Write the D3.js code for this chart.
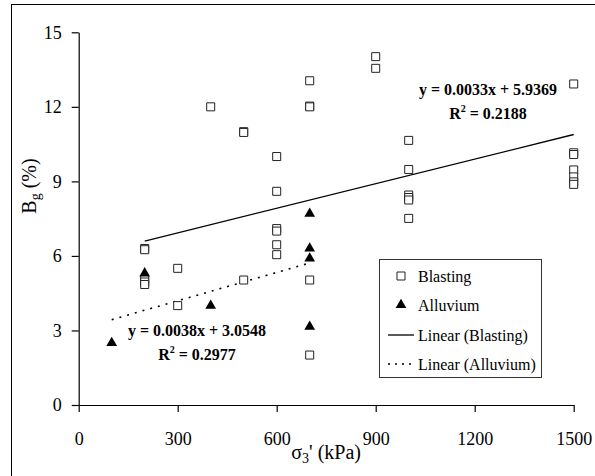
<!DOCTYPE html>
<html>
<head>
<meta charset="utf-8">
<script src="https://cdn.jsdelivr.net/npm/d3@7"></script>
<style>
  html, body { margin: 0; padding: 0; background: #fff; }
  svg { display: block; }
</style>
</head>
<body>
<svg id="chart" width="595" height="476"></svg>
<script>
// ---- data ----
const blastingX = [200, 200, 200, 200, 200, 300, 300, 400, 500, 500, 500,
  600, 600, 600, 600, 600, 600,
  700, 700, 700, 700, 700,
  900, 900,
  1000, 1000, 1000, 1000, 1000, 1000,
  1500, 1500, 1500, 1500, 1500, 1500, 1500];
const blastingY = [6.3, 6.25, 5.05, 4.95, 4.85, 5.5, 4.0, 12.0, 11.0, 10.97, 5.03,
  10.0, 8.6, 7.1, 7.0, 6.45, 6.05,
  13.05, 12.03, 12.0, 5.03, 2.01,
  14.02, 13.55,
  10.65, 9.48, 8.45, 8.35, 8.25, 7.51,
  12.92, 10.15, 10.08, 9.46, 9.18, 8.98, 8.88];
const alluviumX = [100, 200, 400, 700, 700, 700, 700];
const alluviumY = [2.5, 5.3, 4.0, 7.7, 6.3, 5.9, 3.15];

// trend line coefficients (from the chart labels)
const blastSlope = 0.0033, blastIntercept = 5.9369, blastR2 = "0.2188";
const alluvSlope = 0.0038, alluvIntercept = 3.0548, alluvR2 = "0.2977";

const xTicks = [0, 300, 600, 900, 1200, 1500];
const yTicks = [0, 3, 6, 9, 12, 15];
const legendLabels = ["Blasting", "Alluvium", "Linear (Blasting)", "Linear (Alluvium)"];

// ---- drawing ----
const FONT = "'Liberation Serif', 'Times New Roman', serif";
const svg = d3.select("#chart");
function styleText(sel, size, weight) {
  sel.style("font-family", FONT).style("font-size", size + "px")
     .style("font-weight", weight || "normal").style("fill", "#000");
  return sel;
}

// outer frame (partly cut off in the reference)
svg.append("rect")
  .attr("x", 11.5).attr("y", 4.5).attr("width", 700).attr("height", 600)
  .attr("fill", "none").attr("stroke", "#000").attr("stroke-width", 1);

const x = d3.scaleLinear().domain([0, 1500]).range([78.7, 573.7]);
const y = d3.scaleLinear().domain([0, 15]).range([405, 32.3]);

const yAxis = svg.append("g")
  .attr("transform", `translate(${x(0)},0)`)
  .call(d3.axisLeft(y).tickValues(yTicks).tickSize(7).tickSizeOuter(0).tickPadding(10).tickFormat(d3.format("d")));
const xAxis = svg.append("g")
  .attr("transform", `translate(0,${y(0)})`)
  .call(d3.axisBottom(x).tickValues(xTicks).tickSize(7).tickSizeOuter(0).tickPadding(20).tickFormat(d3.format("d")));

[yAxis, xAxis].forEach(g => {
  g.selectAll("path, line").attr("stroke", "#000").attr("stroke-width", 1.2);
  styleText(g.selectAll("text"), 18);
});

// axis titles
const yTitle = styleText(svg.append("text"), 20)
  .attr("transform", "translate(36,186) rotate(-90)")
  .attr("text-anchor", "middle");
yTitle.append("tspan").text("B");
yTitle.append("tspan").style("font-size", "14px").attr("dy", 4).text("g");
yTitle.append("tspan").attr("dy", -4).text(" (%)");

const xTitle = styleText(svg.append("text"), 20)
  .attr("x", x(750)).attr("y", 459)
  .attr("text-anchor", "middle");
xTitle.append("tspan").text("σ");
xTitle.append("tspan").style("font-size", "14px").attr("dy", 4).text("3");
xTitle.append("tspan").attr("dy", -4).text("' (kPa)");

// trend lines
const line = d3.line().x(d => x(d[0])).y(d => y(d[1]));
const bMin = d3.min(blastingX), bMax = d3.max(blastingX);
const aMin = d3.min(alluviumX), aMax = d3.max(alluviumX);
svg.append("path")
  .datum([[bMin, blastSlope * bMin + blastIntercept], [bMax, blastSlope * bMax + blastIntercept]])
  .attr("d", line).attr("fill", "none").attr("stroke", "#000").attr("stroke-width", 1.3);
svg.append("path")
  .datum([[aMin, alluvSlope * aMin + alluvIntercept], [aMax, alluvSlope * aMax + alluvIntercept]])
  .attr("d", line).attr("fill", "none").attr("stroke", "#000").attr("stroke-width", 1.6)
  .attr("stroke-dasharray", "2,6");

// points
const blasting = blastingX.map((v, i) => [v, blastingY[i]]);
const alluvium = alluviumX.map((v, i) => [v, alluviumY[i]]);
const sqSym = d3.symbol().type(d3.symbolSquare).size(64);
const triSym = d3.symbol().type(d3.symbolTriangle).size(50);

svg.append("g").selectAll("path").data(blasting).join("path")
  .attr("transform", d => `translate(${x(d[0])},${y(d[1])})`)
  .attr("d", sqSym).attr("fill", "#fff").attr("stroke", "#222").attr("stroke-width", 1);

svg.append("g").selectAll("path").data(alluvium).join("path")
  .attr("transform", d => `translate(${x(d[0])},${y(d[1])})`)
  .attr("d", triSym).attr("fill", "#000");

// equations
function equation(cx, by, slope, intercept, r2) {
  styleText(svg.append("text"), 16, "bold").attr("x", cx).attr("y", by)
    .attr("text-anchor", "middle")
    .text(`y = ${slope.toFixed(4)}x + ${intercept.toFixed(4)}`);
  const t2 = styleText(svg.append("text"), 16, "bold").attr("x", cx).attr("y", by + 24)
    .attr("text-anchor", "middle");
  t2.append("tspan").text("R");
  t2.append("tspan").style("font-size", "10px").attr("dy", -7).text("2");
  t2.append("tspan").attr("dy", 7).text(` = ${r2}`);
}
equation(488, 94.5, blastSlope, blastIntercept, blastR2);
equation(197, 336, alluvSlope, alluvIntercept, alluvR2);

// legend
const lg = svg.append("g");
lg.append("rect").attr("x", 379.5).attr("y", 259.5).attr("width", 162).attr("height", 118)
  .attr("fill", "#fff").attr("stroke", "#333").attr("stroke-width", 1);
const rowY = [276, 305, 335, 364];
lg.append("path").attr("transform", `translate(401,${rowY[0]})`).attr("d", sqSym)
  .attr("fill", "#fff").attr("stroke", "#222");
lg.append("path").attr("transform", `translate(401,${rowY[1]})`).attr("d", triSym).attr("fill", "#000");
lg.append("line").attr("x1", 388).attr("x2", 414).attr("y1", rowY[2]).attr("y2", rowY[2])
  .attr("stroke", "#000").attr("stroke-width", 1.3);
lg.append("line").attr("x1", 388).attr("x2", 414).attr("y1", rowY[3]).attr("y2", rowY[3])
  .attr("stroke", "#000").attr("stroke-width", 1.6).attr("stroke-dasharray", "2,5");
styleText(lg.selectAll("text.lab").data(legendLabels).join("text").attr("class", "lab"), 16)
  .attr("x", 418).attr("y", (d, i) => rowY[i] + 5.5)
  .text(d => d);
</script>
</body>
</html>
